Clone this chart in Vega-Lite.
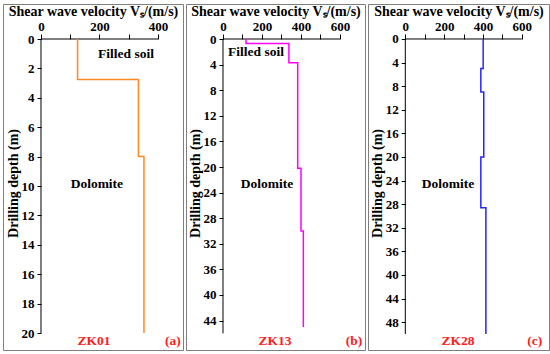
{
  "$schema": "https://vega.github.io/schema/vega-lite/v6.json",
  "background": "white",
  "padding": {"left": 2, "top": 3, "right": 0, "bottom": 0},
  "autosize": {"type": "pad"},
  "spacing": 3,
  "bounds": "flush",
  "resolve": {"scale": {"x": "independent", "y": "independent"}, "axis": {"x": "independent", "y": "independent"}},
  "config": {
    "view": {"stroke": "#7f7f7f", "strokeWidth": 1},
    "axis": {
      "grid": false, "domain": false, "tickColor": "black", "tickWidth": 1,
      "labelFont": "Times New Roman, Liberation Serif, serif", "labelFontSize": 13, "labelFontWeight": "bold", "labelColor": "black",
      "labelFlush": false, "labelOverlap": false,
      "titleFont": "Times New Roman, Liberation Serif, serif", "titleFontSize": 14, "titleFontWeight": "bold", "titleColor": "black"
    },
    "axisTop": {"tickSize": 5, "labelPadding": 1, "titleY": -28, "titleBaseline": "middle"},
    "axisLeft": {"tickSize": 4, "labelPadding": 3, "titleX": -28, "titleY": 179, "titleBaseline": "middle"},
    "text": {"font": "Times New Roman, Liberation Serif, serif", "fontWeight": "bold", "fontSize": 13.5}
  },
  "datasets": {
    "axA": [{"v": 0, "v2": 400, "d": 0, "d2": 0}, {"v": 0, "v2": 0, "d": 0, "d2": 20}],
    "axB": [{"v": 0, "v2": 600, "d": 0, "d2": 0}, {"v": 0, "v2": 0, "d": 0, "d2": 46}],
    "axC": [{"v": 0, "v2": 600, "d": 0, "d2": 0}, {"v": 0, "v2": 0, "d": 0, "d2": 50}],
    "zk01": [
      {"i": 1, "v": 125, "d": 0}, {"i": 2, "v": 125, "d": 2.75}, {"i": 3, "v": 333, "d": 2.75},
      {"i": 4, "v": 333, "d": 8}, {"i": 5, "v": 352, "d": 8}, {"i": 6, "v": 352, "d": 20}
    ],
    "zk13": [
      {"i": 1, "v": 118, "d": 0}, {"i": 2, "v": 118, "d": 0.7}, {"i": 3, "v": 338, "d": 0.7},
      {"i": 4, "v": 338, "d": 3.7}, {"i": 5, "v": 383, "d": 3.7}, {"i": 6, "v": 383, "d": 20.2},
      {"i": 7, "v": 400, "d": 20.2}, {"i": 8, "v": 400, "d": 30}, {"i": 9, "v": 412, "d": 30},
      {"i": 10, "v": 412, "d": 45}
    ],
    "zk28": [
      {"i": 1, "v": 401, "d": 0}, {"i": 2, "v": 401, "d": 5}, {"i": 3, "v": 389, "d": 5},
      {"i": 4, "v": 389, "d": 9}, {"i": 5, "v": 404, "d": 9}, {"i": 6, "v": 404, "d": 20},
      {"i": 7, "v": 389, "d": 20}, {"i": 8, "v": 389, "d": 28.6}, {"i": 9, "v": 415, "d": 28.6},
      {"i": 10, "v": 415, "d": 50}
    ],
    "labA": [{"t": "Filled soil", "v": 290.6, "d": 1.02}, {"t": "Dolomite", "v": 191, "d": 9.86}],
    "tagA": [{"t": "ZK01", "v": 181, "d": 20.54}, {"t": "(a)", "v": 451, "d": 20.54}],
    "labB": [{"t": "Filled soil", "v": 169, "d": 2.03}, {"t": "Dolomite", "v": 225.6, "d": 22.66}],
    "tagB": [{"t": "ZK13", "v": 266.7, "d": 47.2}, {"t": "(b)", "v": 671.8, "d": 47.2}],
    "labC": [{"t": "Dolomite", "v": 220, "d": 24.6}],
    "tagC": [{"t": "ZK28", "v": 271, "d": 51.2}, {"t": "(c)", "v": 667, "d": 51.2}]
  },
  "hconcat": [
    {
      "width": 180, "height": 346,
      "encoding": {
        "x": {"field": "v", "type": "quantitative",
          "scale": {"domain": [-129.9, 485.5], "nice": false, "zero": false},
          "axis": {"orient": "top", "offset": -35, "values": [0, 100, 200, 300, 400],
            "labelExpr": "datum.value % 200 === 0 ? datum.label : ''",
            "title": "Shear wave velocity Vₛ/(m/s)"}},
        "y": {"field": "d", "type": "quantitative",
          "scale": {"domain": [-2.381, 21.156], "nice": false, "zero": false, "reverse": true},
          "axis": {"orient": "left", "offset": -38, "values": [0, 2, 4, 6, 8, 10, 12, 14, 16, 18, 20],
            "title": "Drilling depth (m)"}}
      },
      "layer": [
        {"data": {"name": "axA"}, "mark": {"type": "rule", "color": "black", "strokeWidth": 1},
          "encoding": {"x2": {"field": "v2"}, "y2": {"field": "d2"}}},
        {"data": {"name": "zk01"}, "mark": {"type": "line", "color": "#FF8A24", "strokeWidth": 1.5},
          "encoding": {"order": {"field": "i", "type": "quantitative"}}},
        {"data": {"name": "labA"}, "mark": {"type": "text", "color": "black"},
          "encoding": {"text": {"field": "t"}}},
        {"data": {"name": "tagA"}, "mark": {"type": "text", "color": "#FF2020"},
          "encoding": {"text": {"field": "t"}}}
      ]
    },
    {
      "width": 179, "height": 346,
      "encoding": {
        "x": {"field": "v", "type": "quantitative",
          "scale": {"domain": [-189.7, 728.2], "nice": false, "zero": false},
          "axis": {"orient": "top", "offset": -35, "values": [0, 100, 200, 300, 400, 500, 600],
            "labelExpr": "datum.value % 200 === 0 ? datum.label : ''",
            "title": "Shear wave velocity Vₛ/(m/s)"}},
        "y": {"field": "d", "type": "quantitative",
          "scale": {"domain": [-5.469, 48.594], "nice": false, "zero": false, "reverse": true},
          "axis": {"orient": "left", "offset": -37, "values": [0, 4, 8, 12, 16, 20, 24, 28, 32, 36, 40, 44],
            "title": "Drilling depth (m)"}}
      },
      "layer": [
        {"data": {"name": "axB"}, "mark": {"type": "rule", "color": "black", "strokeWidth": 1},
          "encoding": {"x2": {"field": "v2"}, "y2": {"field": "d2"}}},
        {"data": {"name": "zk13"}, "mark": {"type": "line", "color": "#FF00FF", "strokeWidth": 1.5},
          "encoding": {"order": {"field": "i", "type": "quantitative"}}},
        {"data": {"name": "labB"}, "mark": {"type": "text", "color": "black"},
          "encoding": {"text": {"field": "t"}}},
        {"data": {"name": "tagB"}, "mark": {"type": "text", "color": "#FF2020"},
          "encoding": {"text": {"field": "t"}}}
      ]
    },
    {
      "width": 181, "height": 346,
      "encoding": {
        "x": {"field": "v", "type": "quantitative",
          "scale": {"domain": [-192.1, 740], "nice": false, "zero": false},
          "axis": {"orient": "top", "offset": -35, "values": [0, 100, 200, 300, 400, 500, 600],
            "labelExpr": "datum.value % 200 === 0 ? datum.label : ''",
            "title": "Shear wave velocity Vₛ/(m/s)"}},
        "y": {"field": "d", "type": "quantitative",
          "scale": {"domain": [-5.932, 52.712], "nice": false, "zero": false, "reverse": true},
          "axis": {"orient": "left", "offset": -37.3, "values": [0, 4, 8, 12, 16, 20, 24, 28, 32, 36, 40, 44, 48],
            "title": "Drilling depth (m)"}}
      },
      "layer": [
        {"data": {"name": "axC"}, "mark": {"type": "rule", "color": "black", "strokeWidth": 1},
          "encoding": {"x2": {"field": "v2"}, "y2": {"field": "d2"}}},
        {"data": {"name": "zk28"}, "mark": {"type": "line", "color": "#2424FF", "strokeWidth": 1.5},
          "encoding": {"order": {"field": "i", "type": "quantitative"}}},
        {"data": {"name": "labC"}, "mark": {"type": "text", "color": "black"},
          "encoding": {"text": {"field": "t"}}},
        {"data": {"name": "tagC"}, "mark": {"type": "text", "color": "#FF2020"},
          "encoding": {"text": {"field": "t"}}}
      ]
    }
  ]
}
